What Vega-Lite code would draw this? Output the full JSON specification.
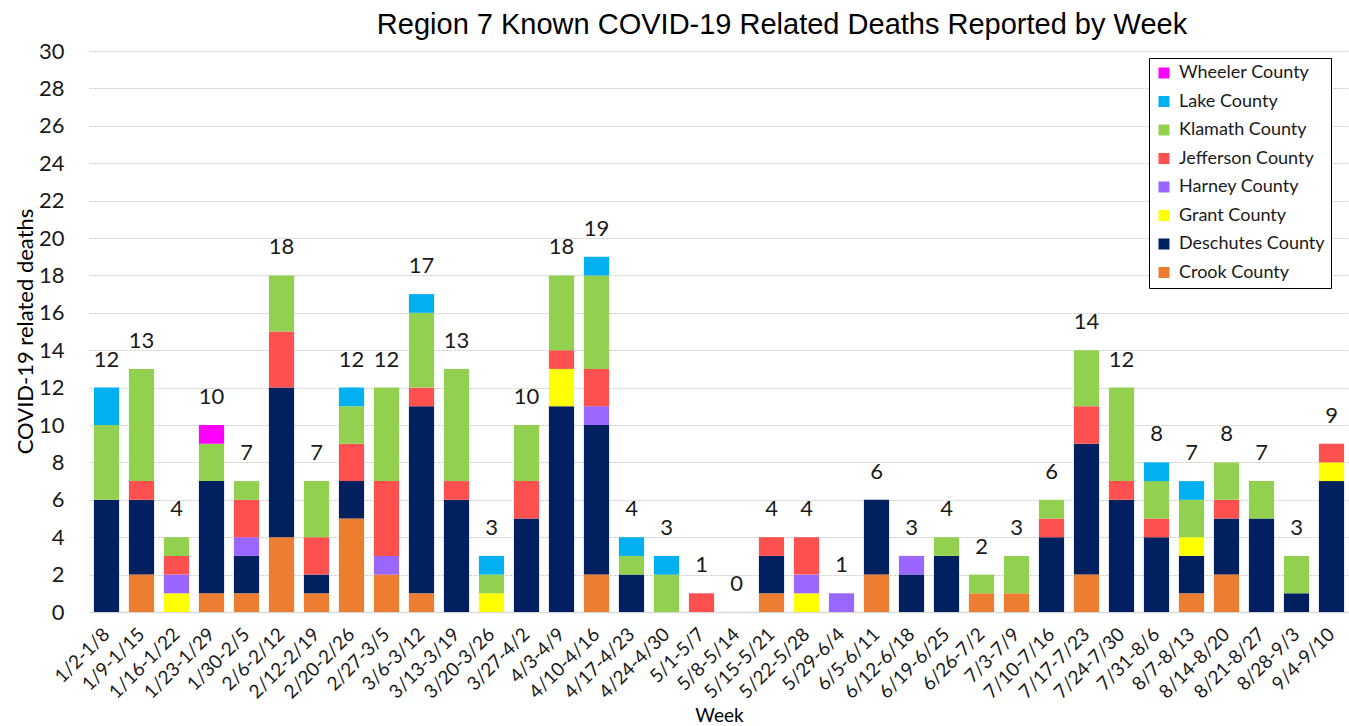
{
  "$schema": "https://vega.github.io/schema/vega-lite/v6.json",
  "width": 1260,
  "height": 561,
  "autosize": {"type": "none"},
  "padding": {"left": 89, "top": 51, "right": 0, "bottom": 114},
  "background": "white",
  "config": {"view": {"stroke": null}},
  "title": {
    "text": "Region 7 Known COVID-19 Related Deaths Reported by Week",
    "font": "Liberation Sans",
    "fontSize": 29,
    "fontWeight": "normal",
    "color": "#000000",
    "anchor": "middle",
    "frame": "group",
    "dx": 63,
    "offset": 0
  },
  "data": {"values": [
    {"week": "1/2-1/8", "county": "Deschutes County", "deaths": 6},
    {"week": "1/2-1/8", "county": "Klamath County", "deaths": 4},
    {"week": "1/2-1/8", "county": "Lake County", "deaths": 2},
    {"week": "1/9-1/15", "county": "Crook County", "deaths": 2},
    {"week": "1/9-1/15", "county": "Deschutes County", "deaths": 4},
    {"week": "1/9-1/15", "county": "Jefferson County", "deaths": 1},
    {"week": "1/9-1/15", "county": "Klamath County", "deaths": 6},
    {"week": "1/16-1/22", "county": "Grant County", "deaths": 1},
    {"week": "1/16-1/22", "county": "Harney County", "deaths": 1},
    {"week": "1/16-1/22", "county": "Jefferson County", "deaths": 1},
    {"week": "1/16-1/22", "county": "Klamath County", "deaths": 1},
    {"week": "1/23-1/29", "county": "Crook County", "deaths": 1},
    {"week": "1/23-1/29", "county": "Deschutes County", "deaths": 6},
    {"week": "1/23-1/29", "county": "Klamath County", "deaths": 2},
    {"week": "1/23-1/29", "county": "Wheeler County", "deaths": 1},
    {"week": "1/30-2/5", "county": "Crook County", "deaths": 1},
    {"week": "1/30-2/5", "county": "Deschutes County", "deaths": 2},
    {"week": "1/30-2/5", "county": "Harney County", "deaths": 1},
    {"week": "1/30-2/5", "county": "Jefferson County", "deaths": 2},
    {"week": "1/30-2/5", "county": "Klamath County", "deaths": 1},
    {"week": "2/6-2/12", "county": "Crook County", "deaths": 4},
    {"week": "2/6-2/12", "county": "Deschutes County", "deaths": 8},
    {"week": "2/6-2/12", "county": "Jefferson County", "deaths": 3},
    {"week": "2/6-2/12", "county": "Klamath County", "deaths": 3},
    {"week": "2/12-2/19", "county": "Crook County", "deaths": 1},
    {"week": "2/12-2/19", "county": "Deschutes County", "deaths": 1},
    {"week": "2/12-2/19", "county": "Jefferson County", "deaths": 2},
    {"week": "2/12-2/19", "county": "Klamath County", "deaths": 3},
    {"week": "2/20-2/26", "county": "Crook County", "deaths": 5},
    {"week": "2/20-2/26", "county": "Deschutes County", "deaths": 2},
    {"week": "2/20-2/26", "county": "Jefferson County", "deaths": 2},
    {"week": "2/20-2/26", "county": "Klamath County", "deaths": 2},
    {"week": "2/20-2/26", "county": "Lake County", "deaths": 1},
    {"week": "2/27-3/5", "county": "Crook County", "deaths": 2},
    {"week": "2/27-3/5", "county": "Harney County", "deaths": 1},
    {"week": "2/27-3/5", "county": "Jefferson County", "deaths": 4},
    {"week": "2/27-3/5", "county": "Klamath County", "deaths": 5},
    {"week": "3/6-3/12", "county": "Crook County", "deaths": 1},
    {"week": "3/6-3/12", "county": "Deschutes County", "deaths": 10},
    {"week": "3/6-3/12", "county": "Jefferson County", "deaths": 1},
    {"week": "3/6-3/12", "county": "Klamath County", "deaths": 4},
    {"week": "3/6-3/12", "county": "Lake County", "deaths": 1},
    {"week": "3/13-3/19", "county": "Deschutes County", "deaths": 6},
    {"week": "3/13-3/19", "county": "Jefferson County", "deaths": 1},
    {"week": "3/13-3/19", "county": "Klamath County", "deaths": 6},
    {"week": "3/20-3/26", "county": "Grant County", "deaths": 1},
    {"week": "3/20-3/26", "county": "Klamath County", "deaths": 1},
    {"week": "3/20-3/26", "county": "Lake County", "deaths": 1},
    {"week": "3/27-4/2", "county": "Deschutes County", "deaths": 5},
    {"week": "3/27-4/2", "county": "Jefferson County", "deaths": 2},
    {"week": "3/27-4/2", "county": "Klamath County", "deaths": 3},
    {"week": "4/3-4/9", "county": "Deschutes County", "deaths": 11},
    {"week": "4/3-4/9", "county": "Grant County", "deaths": 2},
    {"week": "4/3-4/9", "county": "Jefferson County", "deaths": 1},
    {"week": "4/3-4/9", "county": "Klamath County", "deaths": 4},
    {"week": "4/10-4/16", "county": "Crook County", "deaths": 2},
    {"week": "4/10-4/16", "county": "Deschutes County", "deaths": 8},
    {"week": "4/10-4/16", "county": "Harney County", "deaths": 1},
    {"week": "4/10-4/16", "county": "Jefferson County", "deaths": 2},
    {"week": "4/10-4/16", "county": "Klamath County", "deaths": 5},
    {"week": "4/10-4/16", "county": "Lake County", "deaths": 1},
    {"week": "4/17-4/23", "county": "Deschutes County", "deaths": 2},
    {"week": "4/17-4/23", "county": "Klamath County", "deaths": 1},
    {"week": "4/17-4/23", "county": "Lake County", "deaths": 1},
    {"week": "4/24-4/30", "county": "Klamath County", "deaths": 2},
    {"week": "4/24-4/30", "county": "Lake County", "deaths": 1},
    {"week": "5/1-5/7", "county": "Jefferson County", "deaths": 1},
    {"week": "5/8-5/14", "county": "Crook County", "deaths": 0},
    {"week": "5/15-5/21", "county": "Crook County", "deaths": 1},
    {"week": "5/15-5/21", "county": "Deschutes County", "deaths": 2},
    {"week": "5/15-5/21", "county": "Jefferson County", "deaths": 1},
    {"week": "5/22-5/28", "county": "Grant County", "deaths": 1},
    {"week": "5/22-5/28", "county": "Harney County", "deaths": 1},
    {"week": "5/22-5/28", "county": "Jefferson County", "deaths": 2},
    {"week": "5/29-6/4", "county": "Harney County", "deaths": 1},
    {"week": "6/5-6/11", "county": "Crook County", "deaths": 2},
    {"week": "6/5-6/11", "county": "Deschutes County", "deaths": 4},
    {"week": "6/12-6/18", "county": "Deschutes County", "deaths": 2},
    {"week": "6/12-6/18", "county": "Harney County", "deaths": 1},
    {"week": "6/19-6/25", "county": "Deschutes County", "deaths": 3},
    {"week": "6/19-6/25", "county": "Klamath County", "deaths": 1},
    {"week": "6/26-7/2", "county": "Crook County", "deaths": 1},
    {"week": "6/26-7/2", "county": "Klamath County", "deaths": 1},
    {"week": "7/3-7/9", "county": "Crook County", "deaths": 1},
    {"week": "7/3-7/9", "county": "Klamath County", "deaths": 2},
    {"week": "7/10-7/16", "county": "Deschutes County", "deaths": 4},
    {"week": "7/10-7/16", "county": "Jefferson County", "deaths": 1},
    {"week": "7/10-7/16", "county": "Klamath County", "deaths": 1},
    {"week": "7/17-7/23", "county": "Crook County", "deaths": 2},
    {"week": "7/17-7/23", "county": "Deschutes County", "deaths": 7},
    {"week": "7/17-7/23", "county": "Jefferson County", "deaths": 2},
    {"week": "7/17-7/23", "county": "Klamath County", "deaths": 3},
    {"week": "7/24-7/30", "county": "Deschutes County", "deaths": 6},
    {"week": "7/24-7/30", "county": "Jefferson County", "deaths": 1},
    {"week": "7/24-7/30", "county": "Klamath County", "deaths": 5},
    {"week": "7/31-8/6", "county": "Deschutes County", "deaths": 4},
    {"week": "7/31-8/6", "county": "Jefferson County", "deaths": 1},
    {"week": "7/31-8/6", "county": "Klamath County", "deaths": 2},
    {"week": "7/31-8/6", "county": "Lake County", "deaths": 1},
    {"week": "8/7-8/13", "county": "Crook County", "deaths": 1},
    {"week": "8/7-8/13", "county": "Deschutes County", "deaths": 2},
    {"week": "8/7-8/13", "county": "Grant County", "deaths": 1},
    {"week": "8/7-8/13", "county": "Klamath County", "deaths": 2},
    {"week": "8/7-8/13", "county": "Lake County", "deaths": 1},
    {"week": "8/14-8/20", "county": "Crook County", "deaths": 2},
    {"week": "8/14-8/20", "county": "Deschutes County", "deaths": 3},
    {"week": "8/14-8/20", "county": "Jefferson County", "deaths": 1},
    {"week": "8/14-8/20", "county": "Klamath County", "deaths": 2},
    {"week": "8/21-8/27", "county": "Deschutes County", "deaths": 5},
    {"week": "8/21-8/27", "county": "Klamath County", "deaths": 2},
    {"week": "8/28-9/3", "county": "Deschutes County", "deaths": 1},
    {"week": "8/28-9/3", "county": "Klamath County", "deaths": 2},
    {"week": "9/4-9/10", "county": "Deschutes County", "deaths": 7},
    {"week": "9/4-9/10", "county": "Grant County", "deaths": 1},
    {"week": "9/4-9/10", "county": "Jefferson County", "deaths": 1}
  ]},
  "encoding": {
    "x": {
      "field": "week",
      "type": "nominal",
      "sort": null,
      "scale": {"paddingInner": 0.28, "paddingOuter": 0.14},
      "axis": {
        "title": "Week",
        "titleFont": "Lato",
        "titleFontSize": 19,
        "titleFontWeight": "normal",
        "titleColor": "#000000",
        "titleBaseline": "middle",
        "titleY": 103,
        "labelAngle": -45,
        "labelAlign": "right",
        "labelBaseline": "middle",
        "labelFont": "Lato",
        "labelFontSize": 19,
        "labelColor": "#1a1a1a",
        "labelPadding": 19,
        "labelOverlap": false,
        "ticks": false,
        "domain": true,
        "domainColor": "#d9d9d9",
        "domainWidth": 1.5,
        "grid": false
      }
    },
    "y": {
      "type": "quantitative",
      "scale": {"domain": [0, 30], "nice": false},
      "axis": {
        "title": "COVID-19 related deaths",
        "titleFont": "Lato",
        "titleFontSize": 22,
        "titleFontWeight": "normal",
        "titleColor": "#000000",
        "titleX": -64,
        "titleY": 280,
        "titleBaseline": "middle",
        "titleAngle": -90,
        "values": [0, 2, 4, 6, 8, 10, 12, 14, 16, 18, 20, 22, 24, 26, 28, 30],
        "labelOverlap": false,
        "labelBound": false,
        "labelFont": "Lato",
        "labelFontSize": 22,
        "labelColor": "#1a1a1a",
        "labelPadding": 25,
        "ticks": false,
        "domain": false,
        "grid": true,
        "gridColor": "#d4d4d4",
        "gridDash": [3, 1],
        "gridWidth": 1.2
      }
    }
  },
  "layer": [
    {
      "mark": {"type": "bar"},
      "encoding": {
        "y": {
          "field": "deaths",
          "type": "quantitative",
          "aggregate": "sum",
          "stack": "zero"
        },
        "color": {
          "field": "county",
          "type": "nominal",
          "scale": {
            "domain": ["Wheeler County", "Lake County", "Klamath County", "Jefferson County", "Harney County", "Grant County", "Deschutes County", "Crook County"],
            "range": ["#FF00FF", "#00B0F0", "#92D050", "#FF5050", "#9966FF", "#FFFF00", "#002060", "#ED7D31"]
          },
          "legend": {
            "title": null,
            "orient": "none",
            "legendX": 1060,
            "legendY": 7,
            "symbolType": "square",
            "symbolSize": 121,
            "symbolStrokeWidth": 0,
            "labelFont": "Lato",
            "labelFontSize": 18,
            "labelColor": "#1a1a1a",
            "labelOffset": 6,
            "rowPadding": 10.5,
            "padding": 6,
            "strokeColor": "#000000",
            "fillColor": "#ffffff"
          }
        },
        "order": {"field": "county", "sort": "ascending"}
      }
    },
    {
      "transform": [
        {"aggregate": [{"op": "sum", "field": "deaths", "as": "total"}], "groupby": ["week"]}
      ],
      "mark": {"type": "text", "font": "Lato", "fontSize": 22, "color": "#1a1a1a", "baseline": "middle", "dy": -28},
      "encoding": {
        "y": {"field": "total", "type": "quantitative"},
        "text": {"field": "total", "type": "quantitative"}
      }
    }
  ]
}
